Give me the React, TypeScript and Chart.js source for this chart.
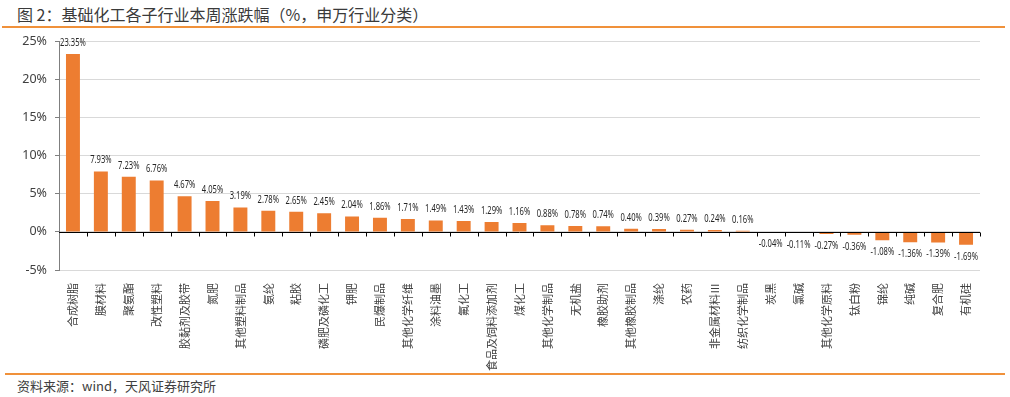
import React, { useEffect, useRef } from "react";
import { Chart, registerables } from "chart.js";

Chart.register(...registerables);

const categories = [
  "合成树脂", "膜材料", "聚氨酯", "改性塑料", "胶黏剂及胶带", "氮肥", "其他塑料制品", "氨纶", "粘胶",
  "磷肥及磷化工", "钾肥", "民爆制品", "其他化学纤维", "涂料油墨", "氟化工", "食品及饲料添加剂", "煤化工",
  "其他化学制品", "无机盐", "橡胶助剂", "其他橡胶制品", "涤纶", "农药", "非金属材料Ⅲ", "纺织化学制品",
  "炭黑", "氯碱", "其他化学原料", "钛白粉", "锦纶", "纯碱", "复合肥", "有机硅",
];

const weeklyChange = [
  23.35, 7.93, 7.23, 6.76, 4.67, 4.05, 3.19, 2.78, 2.65, 2.45, 2.04, 1.86, 1.71, 1.49, 1.43, 1.29, 1.16,
  0.88, 0.78, 0.74, 0.40, 0.39, 0.27, 0.24, 0.16, -0.04, -0.11, -0.27, -0.36, -1.08, -1.36, -1.39, -1.69,
];

const yMin = -5;
const yMax = 25;
const yStep = 5;

const TITLE = "图 2：基础化工各子行业本周涨跌幅（%，申万行业分类）";
const SOURCE = "资料来源：wind，天风证券研究所";

const BAR_COLOR = "#ED7D31";
const ORANGE_LINE = "#F0913A";
const TEXT = "#404040";
const CJK = '"Noto Sans CJK SC", "Noto Sans", sans-serif';
const NUM = '"Noto Sans", sans-serif';

export default function App() {
  const ref = useRef<HTMLCanvasElement>(null);

  useEffect(() => {
    if (!ref.current) return;

    const zeroLine = {
      id: "zeroLine",
      afterDatasetsDraw(chart: any) {
        const { ctx, chartArea } = chart;
        const y0 = Math.round(chart.scales.y.getPixelForValue(0)) + 0.5;
        const xs = chart.scales.x;
        ctx.save();
        ctx.strokeStyle = "#000000";
        ctx.lineWidth = 1;
        ctx.beginPath();
        ctx.moveTo(chartArea.left, y0);
        ctx.lineTo(chartArea.right, y0);
        const n = categories.length;
        for (let i = 1; i <= n; i++) {
          const x = Math.round(xs.getPixelForValue(i - 0.5)) + 0.5;
          ctx.moveTo(x, y0);
          ctx.lineTo(x, y0 + 4);
        }
        ctx.stroke();
        ctx.restore();
      },
    };

    const valueLabels = {
      id: "valueLabels",
      afterDatasetsDraw(chart: any) {
        const { ctx } = chart;
        const meta = chart.getDatasetMeta(0);
        ctx.save();
        ctx.fillStyle = "#262626";
        ctx.font = `10px ${NUM}`;
        ctx.textAlign = "center";
        ctx.textBaseline = "middle";
        meta.data.forEach((bar: any, i: number) => {
          const v = weeklyChange[i];
          const label = v.toFixed(2) + "%";
          const y = v >= 0 ? bar.y - 11 : bar.y + 12;
          ctx.save();
          ctx.translate(bar.x, y);
          ctx.scale(0.76, 1);
          ctx.fillText(label, 0, 0);
          ctx.restore();
        });
        ctx.restore();
      },
    };

    const chart = new Chart(ref.current, {
      type: "bar",
      data: {
        labels: categories,
        datasets: [
          {
            data: weeklyChange,
            backgroundColor: BAR_COLOR,
            barPercentage: 0.5,
            categoryPercentage: 1,
          },
        ],
      },
      options: {
        animation: false,
        responsive: false,
        layout: { padding: { top: 6, right: 30, left: 0, bottom: 0 } },
        plugins: {
          legend: { display: false },
          tooltip: { enabled: false },
        },
        scales: {
          x: {
            grid: { display: false },
            border: { display: false },
            ticks: {
              autoSkip: false,
              minRotation: 90,
              maxRotation: 90,
              padding: 5,
              color: TEXT,
              font: { family: CJK, size: 11 },
            },
            afterFit: (s: any) => {
              s.height = 105;
            },
          },
          y: {
            min: yMin,
            max: yMax,
            ticks: {
              stepSize: yStep,
              color: TEXT,
              padding: 8,
              font: { family: '"Noto Sans", sans-serif', size: 12.5 },
              callback: (v: any) => v + "%",
            },
            grid: { color: "#d9d9d9", lineWidth: 1, tickLength: 4, tickColor: "#7f7f7f" },
            border: { color: "#7f7f7f", width: 1 },
            afterFit: (s: any) => {
              s.width = 59;
            },
          },
        },
      },
      plugins: [zeroLine, valueLabels],
    });

    return () => chart.destroy();
  }, []);

  return (
    <div
      style={{
        position: "fixed",
        left: 0,
        top: 0,
        width: 1010,
        height: 397,
        background: "#ffffff",
        overflow: "hidden",
      }}
    >
      <canvas
        ref={ref}
        width={1010}
        height={349}
        style={{ position: "absolute", left: 0, top: 26, width: 1010, height: 349, display: "block" }}
      />
      <div
        style={{
          position: "absolute",
          left: 17,
          top: 2,
          fontFamily: CJK,
          fontSize: 16,
          lineHeight: "24px",
          color: "#3a3a3a",
          fontWeight: 400,
          whiteSpace: "nowrap",
        }}
      >
        {TITLE}
      </div>
      <div
        style={{
          position: "absolute",
          left: 2,
          top: 26,
          width: 1003,
          height: 2,
          background: ORANGE_LINE,
        }}
      />
      <div
        style={{
          position: "absolute",
          left: 5,
          top: 373,
          width: 1000,
          height: 2,
          background: ORANGE_LINE,
        }}
      />
      <div
        style={{
          position: "absolute",
          left: 17,
          top: 377,
          fontFamily: CJK,
          fontSize: 13,
          lineHeight: "18px",
          color: TEXT,
          whiteSpace: "nowrap",
        }}
      >
        {SOURCE}
      </div>
    </div>
  );
}
